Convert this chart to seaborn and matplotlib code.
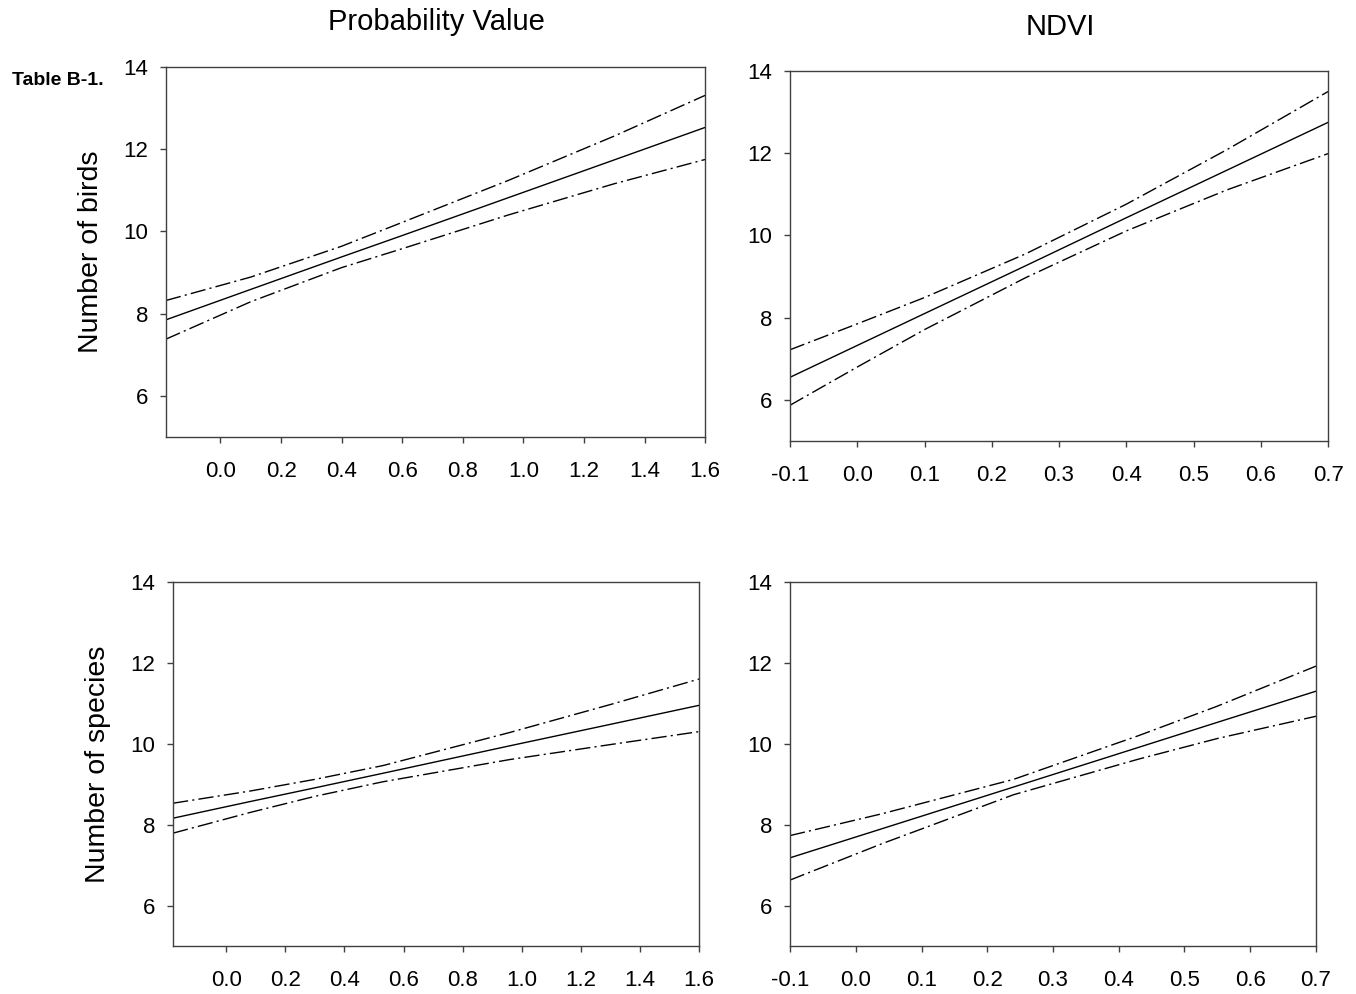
import matplotlib
matplotlib.use("Agg")
import matplotlib.pyplot as plt
import seaborn as sns
import pandas as pd

# top left: birds vs probability value
tl_x = [-0.18, 0.1, 0.4, 0.6, 0.95, 1.3, 1.6]
tl_fit = [7.85, 8.59, 9.38, 9.90, 10.82, 11.74, 12.53]
tl_upper = [8.32, 8.89, 9.64, 10.22, 11.24, 12.32, 13.31]
tl_lower = [7.38, 8.29, 9.12, 9.58, 10.40, 11.16, 11.75]

# top right: birds vs NDVI
tr_x = [-0.1, 0.0, 0.1, 0.25, 0.4, 0.55, 0.7]
tr_fit = [6.55, 7.325, 8.10, 9.26, 10.43, 11.59, 12.75]
tr_upper = [7.22, 7.85, 8.49, 9.55, 10.76, 12.09, 13.50]
tr_lower = [5.87, 6.80, 7.71, 8.97, 10.11, 11.11, 11.99]

# bottom left: species vs probability value
bl_x = [-0.18, 0.08, 0.3, 0.53, 0.96, 1.3, 1.6]
bl_fit = [8.16, 8.57, 8.91, 9.27, 9.95, 10.48, 10.95]
bl_upper = [8.53, 8.83, 9.12, 9.46, 10.28, 10.97, 11.60]
bl_lower = [7.79, 8.30, 8.70, 9.06, 9.61, 9.98, 10.30]

# bottom right: species vs NDVI
br_x = [-0.1, 0.04, 0.24, 0.43, 0.55, 0.7]
br_fit = [7.18, 7.90, 8.93, 9.91, 10.53, 11.30]
br_upper = [7.73, 8.27, 9.12, 10.20, 10.93, 11.92]
br_lower = [6.63, 7.53, 8.74, 9.62, 10.13, 10.68]

prob_ticks = [0.0, 0.2, 0.4, 0.6, 0.8, 1.0, 1.2, 1.4, 1.6]
ndvi_ticks = [-0.1, 0.0, 0.1, 0.2, 0.3, 0.4, 0.5, 0.6, 0.7]
y_ticks = [6, 8, 10, 12, 14]

sns.set_theme(style="ticks")
plt.rcParams['font.family'] = ['Liberation Sans', 'DejaVu Sans']
plt.rcParams['axes.unicode_minus'] = False
plt.rcParams['axes.edgecolor'] = '#404040'
plt.rcParams['axes.linewidth'] = 1.0
plt.rcParams['text.color'] = 'black'
plt.rcParams['axes.labelcolor'] = 'black'
plt.rcParams['xtick.labelcolor'] = 'black'
plt.rcParams['ytick.labelcolor'] = 'black'

fig = plt.figure(figsize=(13.56, 9.94), dpi=100)

panels = [
    ([0.1224, 0.5604, 0.3976, 0.3722], tl_x, tl_fit, tl_upper, tl_lower,
     (-0.18, 1.6), prob_ticks, "Number of birds"),
    ([0.5826, 0.5563, 0.3968, 0.3723], tr_x, tr_fit, tr_upper, tr_lower,
     (-0.1, 0.7), ndvi_ticks, None),
    ([0.1276, 0.0483, 0.3879, 0.3662], bl_x, bl_fit, bl_upper, bl_lower,
     (-0.18, 1.6), prob_ticks, "Number of species"),
    ([0.5826, 0.0483, 0.3879, 0.3662], br_x, br_fit, br_upper, br_lower,
     (-0.1, 0.7), ndvi_ticks, None),
]

dashdot = (0, (11, 3, 1.5, 3))

for rect, xs, fit, up, lo, xlim, xt, ylab in panels:
    ax = fig.add_axes(rect)
    df = pd.DataFrame({"x": xs, "fit": fit, "upper": up, "lower": lo})
    sns.lineplot(data=df, x="x", y="fit", ax=ax, color="black", lw=1.0)
    sns.lineplot(data=df, x="x", y="upper", ax=ax, color="black", lw=1.0,
                 linestyle=dashdot)
    sns.lineplot(data=df, x="x", y="lower", ax=ax, color="black", lw=1.0,
                 linestyle=dashdot)
    ax.set_xlim(*xlim)
    ax.set_ylim(5, 14)
    ax.set_xticks(xt)
    ax.set_xticklabels([f"{t:.1f}" for t in xt])
    ax.set_yticks(y_ticks)
    ax.tick_params(axis="x", labelsize=16, length=4.5, width=1, pad=13,
                   color='#404040')
    ax.tick_params(axis="y", labelsize=16, length=4, width=1, pad=9,
                   color='#404040')
    ax.set_xlabel("")
    if ylab:
        ax.set_ylabel(ylab, fontsize=20.5, labelpad=14)
    else:
        ax.set_ylabel("")

fig.text(0.3215, 0.978, "Probability Value", fontsize=21, ha="center", va="center")
fig.text(0.7817, 0.973, "NDVI", fontsize=21, ha="center", va="center")
fig.text(0.009, 0.9195, "Table B-1.", fontsize=14, fontweight="bold",
         ha="left", va="center")

fig.savefig("out.png", dpi=100)
